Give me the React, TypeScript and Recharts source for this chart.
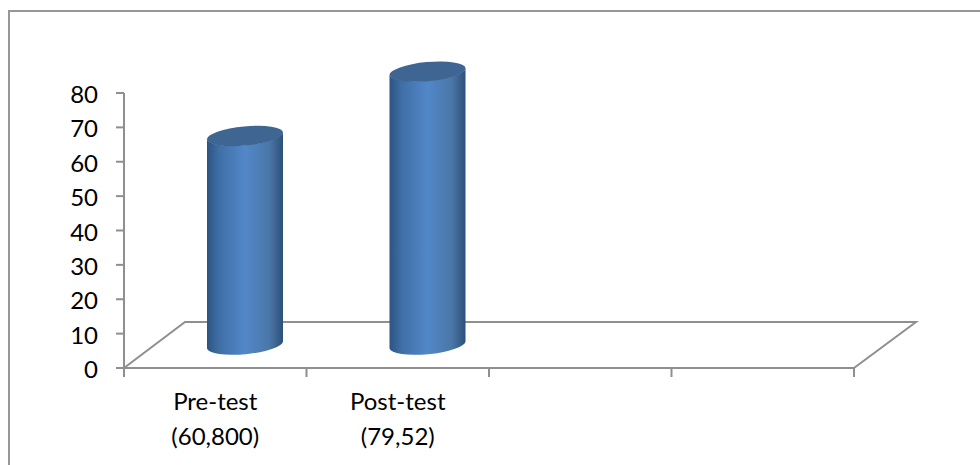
import { BarChart, Bar, XAxis, YAxis } from "recharts";

const categories = ["Pre-test", "Post-test", "", ""];
const subLabels = ["(60,800)", "(79,52)", "", ""];
const means = [60.8, 79.52, null, null];
const yTicks = [0, 10, 20, 30, 40, 50, 60, 70, 80];

const chartData = categories.map((name, i) => ({ name, sub: subLabels[i], mean: means[i] }));

const AXIS = "#8f8f8f";
const FONT = "Lato, Carlito, Calibri, sans-serif";
const BAND = 182.5; // plot width / 4 categories

// 3D look: the bars sit halfway into the floor depth
const DEPTH_X = 30;
const DEPTH_Y = -23;

const CylinderBar = ({ x, y, width, height }: any) => {
  if (!height) return null;
  const left = x + DEPTH_X;
  const right = left + width;
  const top = y + DEPTH_Y;
  const bottom = top + height;
  const rx = width / 2 + 0.2;
  const ry = 9.6;
  const tilt = 3.5;
  return (
    <g>
      <path
        d={`M${left},${top + tilt} L${left},${bottom + tilt} A${rx},${ry} -5.3 0 0 ${right},${bottom - tilt} L${right},${top - tilt} A${rx},${ry} -5.3 0 1 ${left},${top + tilt} Z`}
        fill="url(#cylinderSide)"
      />
      <ellipse
        cx={left + width / 2}
        cy={top}
        rx={rx}
        ry={ry}
        transform={`rotate(-5.3 ${left + width / 2} ${top})`}
        fill="#3f6692"
      />
    </g>
  );
};

const CategoryTick = ({ x, index, payload }: any) => {
  const row = chartData[index];
  return (
    <g>
      <line x1={x - BAND / 2} x2={x - BAND / 2} y1={368} y2={377} stroke={AXIS} strokeWidth={2} />
      {index === categories.length - 1 && (
        <line x1={x + BAND / 2} x2={x + BAND / 2} y1={368} y2={377} stroke={AXIS} strokeWidth={2} />
      )}
      <text x={x} y={410} textAnchor="middle" fontSize={24} fontFamily={FONT} fill="#000">
        {payload.value}
      </text>
      <text x={x} y={445} textAnchor="middle" fontSize={24} fontFamily={FONT} fill="#000">
        {row ? row.sub : ""}
      </text>
    </g>
  );
};

const ValueTick = ({ x, y, payload }: any) => (
  <text x={x} y={y + 10} textAnchor="end" fontSize={24} fontFamily={FONT} fill="#000">
    {payload.value}
  </text>
);

export default function App() {
  return (
    <div
      style={{
        position: "absolute",
        left: 0,
        top: 0,
        width: 980,
        height: 465,
        overflow: "hidden",
        background: "#fff",
      }}
    >
      <div
        style={{
          position: "absolute",
          left: 8,
          top: 10,
          width: 972,
          height: 455,
          boxSizing: "border-box",
          borderTop: "2px solid #979797",
          borderLeft: "2px solid #979797",
        }}
      />
      <div style={{ position: "absolute", left: 0, top: 0 }}>
        <BarChart
          width={980}
          height={465}
          data={chartData}
          margin={{ top: 93, right: 126, bottom: 0, left: 0 }}
          barSize={76}
        >
          <defs>
            <linearGradient id="cylinderSide" x1="0" y1="0" x2="1" y2="0">
              <stop offset="0%" stopColor="#2d5484" />
              <stop offset="16%" stopColor="#3f6fa6" />
              <stop offset="50%" stopColor="#5287c8" />
              <stop offset="82%" stopColor="#4a77a8" />
              <stop offset="100%" stopColor="#2d5079" />
            </linearGradient>
          </defs>
          {/* floor of the 3D plot */}
          <polyline
            points="124,368 185,322 916,322 854,368"
            fill="none"
            stroke={AXIS}
            strokeWidth={2}
          />
          <XAxis
            dataKey="name"
            height={97}
            interval={0}
            tickLine={false}
            axisLine={{ stroke: AXIS, strokeWidth: 2 }}
            tick={<CategoryTick />}
          />
          <YAxis
            width={124}
            domain={[0, 80]}
            ticks={yTicks}
            interval={0}
            tickSize={8}
            tickMargin={18}
            axisLine={{ stroke: AXIS, strokeWidth: 2 }}
            tickLine={{ stroke: AXIS, strokeWidth: 2 }}
            tick={<ValueTick />}
          />
          <Bar dataKey="mean" shape={<CylinderBar />} isAnimationActive={false} />
        </BarChart>
      </div>
    </div>
  );
}
